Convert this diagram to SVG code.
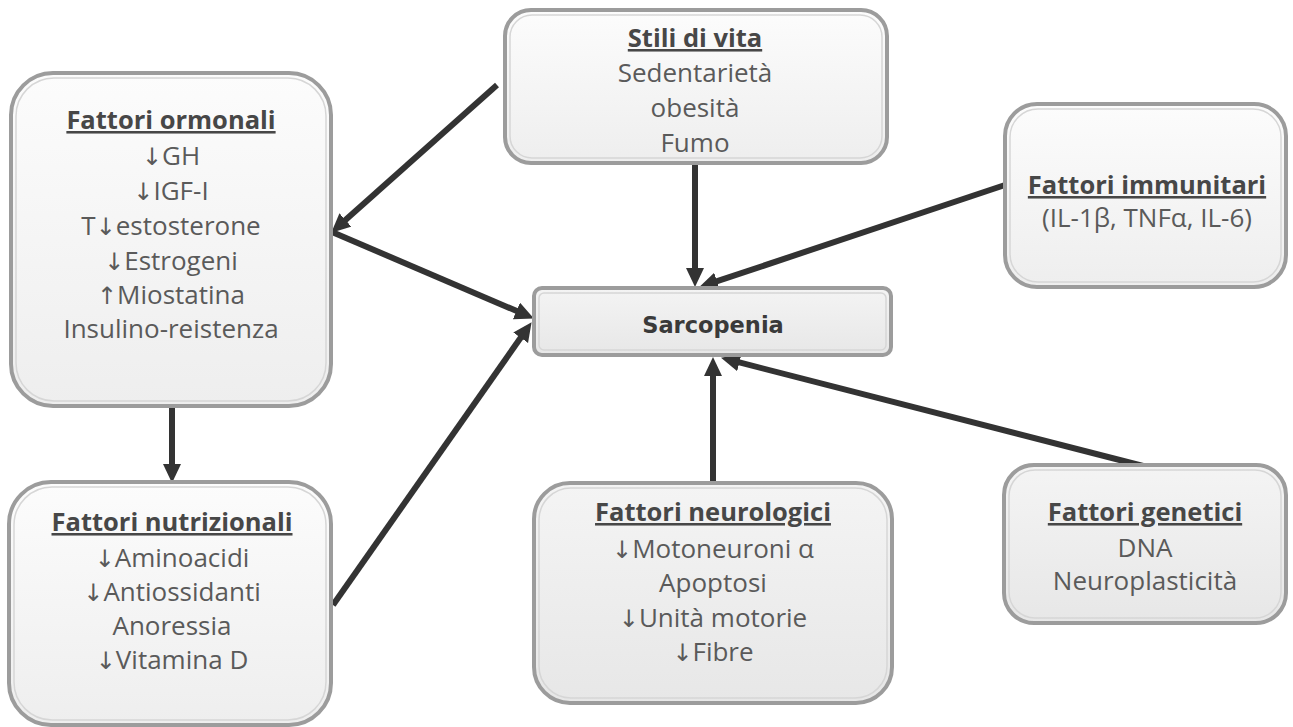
<svg xmlns="http://www.w3.org/2000/svg" width="1293" height="727" viewBox="0 0 1293 727">
<style>
.box{stroke:#9c9c9c;stroke-width:4}
.inner{fill:none;stroke:#d6d6d6;stroke-width:1.5}
.t{font-family:"Open Sans","Liberation Sans",sans-serif;font-size:26px;fill:#5a5a5a;text-anchor:middle}
.a{font-family:"DejaVu Sans",sans-serif;font-size:24px;font-weight:normal;fill:#5a5a5a}
.h{font-family:"Open Sans","Liberation Sans",sans-serif;font-size:25.5px;font-weight:bold;fill:#474747;text-anchor:middle;text-decoration:underline}
.s{font-family:"DejaVu Sans",sans-serif;font-size:22.5px;font-weight:bold;fill:#3a3a3a;text-anchor:middle}
.c{stroke:#333;stroke-width:6;fill:none;marker-end:url(#ah)}
</style>
<defs>
<linearGradient id="g1" x1="0" y1="0" x2="0" y2="1"><stop offset="0" stop-color="#fcfcfc"/><stop offset="1" stop-color="#eeeeee"/></linearGradient>
<linearGradient id="g2" x1="0" y1="0" x2="0" y2="1"><stop offset="0" stop-color="#f4f4f4"/><stop offset="1" stop-color="#e7e7e7"/></linearGradient>
<marker id="ah" markerUnits="userSpaceOnUse" markerWidth="22" markerHeight="20" refX="3" refY="9" orient="auto"><path d="M0,0 L19,9 L0,18 z" fill="#333"/></marker>
</defs>
<rect width="1293" height="727" fill="#fff"/>
<g id="connectors">
<line class="c" x1="497" y1="85" x2="343.2" y2="222"/>
<line class="c" x1="332" y1="232" x2="519.2" y2="312.1"/>
<line class="c" x1="333" y1="605" x2="522.4" y2="335.3"/>
<line class="c" x1="695" y1="163" x2="695" y2="271"/>
<line class="c" x1="1005" y1="185" x2="714.2" y2="282.2"/>
<line class="c" x1="713" y1="483" x2="713" y2="373"/>
<line class="c" x1="1147" y1="467" x2="736.5" y2="361.7"/>
<line class="c" x1="172" y1="407" x2="172" y2="467"/>
</g>
<g id="ormonali">
<rect class="box" x="11" y="73" width="320" height="333" rx="42" fill="url(#g1)"/>
<rect class="inner" x="16" y="78" width="310" height="323" rx="38"/>
<text class="h" x="171" y="129">Fattori ormonali</text>
<text class="t" x="171" y="165"><tspan class="a">↓</tspan>GH</text>
<text class="t" x="171" y="200"><tspan class="a">↓</tspan>IGF-I</text>
<text class="t" x="171" y="235">T<tspan class="a">↓</tspan>estosterone</text>
<text class="t" x="171" y="270"><tspan class="a">↓</tspan>Estrogeni</text>
<text class="t" x="171" y="304"><tspan class="a">↑</tspan>Miostatina</text>
<text class="t" x="171" y="338">Insulino-reistenza</text>
</g>
<g id="stili">
<rect class="box" x="505" y="10" width="382" height="153" rx="26" fill="url(#g1)"/>
<rect class="inner" x="510" y="15" width="372" height="143" rx="22"/>
<text class="h" x="695" y="47">Stili di vita</text>
<text class="t" x="695" y="82">Sedentarietà</text>
<text class="t" x="695" y="117">obesità</text>
<text class="t" x="695" y="152">Fumo</text>
</g>
<g id="immunitari">
<rect class="box" x="1005" y="104" width="281" height="183" rx="32" fill="url(#g1)"/>
<rect class="inner" x="1010" y="109" width="271" height="173" rx="28"/>
<text class="h" x="1147" y="194">Fattori immunitari</text>
<text class="t" x="1147" y="227">(IL-1β, TNFα, IL-6)</text>
</g>
<g id="sarcopenia">
<rect class="box" x="534" y="288" width="357" height="67" rx="8" fill="url(#g2)"/>
<rect class="inner" x="539" y="293" width="347" height="57" rx="5"/>
<text class="s" x="713" y="333">Sarcopenia</text>
</g>
<g id="nutrizionali">
<rect class="box" x="9" y="482" width="322" height="243" rx="42" fill="url(#g1)"/>
<rect class="inner" x="14" y="487" width="312" height="233" rx="38"/>
<text class="h" x="172" y="531">Fattori nutrizionali</text>
<text class="t" x="172" y="567"><tspan class="a">↓</tspan>Aminoacidi</text>
<text class="t" x="172" y="601"><tspan class="a">↓</tspan>Antiossidanti</text>
<text class="t" x="172" y="635">Anoressia</text>
<text class="t" x="172" y="669"><tspan class="a">↓</tspan>Vitamina D</text>
</g>
<g id="neurologici">
<rect class="box" x="534" y="483" width="358" height="220" rx="36" fill="url(#g2)"/>
<rect class="inner" x="539" y="488" width="348" height="210" rx="32"/>
<text class="h" x="713" y="521">Fattori neurologici</text>
<text class="t" x="713" y="558"><tspan class="a">↓</tspan>Motoneuroni α</text>
<text class="t" x="713" y="592">Apoptosi</text>
<text class="t" x="713" y="627"><tspan class="a">↓</tspan>Unità motorie</text>
<text class="t" x="713" y="661"><tspan class="a">↓</tspan>Fibre</text>
</g>
<g id="genetici">
<rect class="box" x="1004" y="465" width="282" height="158" rx="30" fill="url(#g2)"/>
<rect class="inner" x="1009" y="470" width="272" height="148" rx="26"/>
<text class="h" x="1145" y="521">Fattori genetici</text>
<text class="t" x="1145" y="557">DNA</text>
<text class="t" x="1145" y="590">Neuroplasticità</text>
</g>
</svg>
